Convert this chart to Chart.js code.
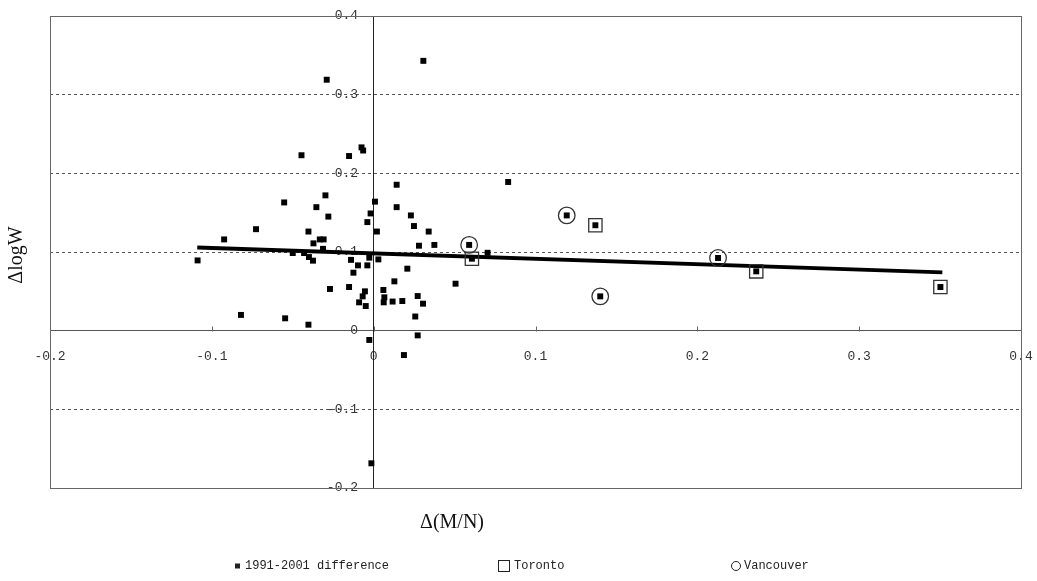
<!DOCTYPE html>
<html lang="en">
<head>
    <meta charset="UTF-8">
    <title>Delta logW vs Delta(M/N)</title>
    <script src="https://cdn.jsdelivr.net/npm/chart.js"></script>
    <style>
        html, body { margin: 0; padding: 0; background: #fff; }
        #wrap { width: 1037px; height: 581px; }
    </style>
</head>
<body>
    <div id="wrap"><canvas id="scatterChart"></canvas></div>

    <script>
        // 1991-2001 differences
        var diffX = [0.0307, -0.029, -0.0446, -0.0152, -0.0075, -0.0065, 0.0142, -0.0298, -0.0553, 0.0008,
                     -0.0354, 0.0142, -0.028, -0.0019, 0.023, -0.0039, 0.0249, -0.0727, 0.034, 0.002,
                     -0.0403, -0.0924, -0.0333, -0.0309, -0.0372, 0.028, 0.0375, -0.0313, -0.05, -0.043,
                     -0.04, -0.0375, -0.1088, -0.014, -0.0027, 0.0029, -0.0097, -0.0039, 0.0208, -0.0125,
                     0.0128, 0.0506, -0.027, -0.0152, -0.0054, 0.006, -0.0068, 0.0066, 0.0272, -0.009,
                     -0.0049, 0.0062, 0.0117, 0.0177, 0.0305, 0.0257, -0.082, -0.0547, -0.0403, 0.0272,
                     -0.0027, 0.0187, -0.0014, 0.0831, 0.0704, 0.059, 0.0607, 0.1193, 0.137, 0.14,
                     0.2128, 0.2364, 0.3502];
        var diffY = [0.343, 0.319, 0.223, 0.222, 0.233, 0.229, 0.1855, 0.172, 0.163, 0.164,
                     0.157, 0.157, 0.145, 0.149, 0.1465, 0.138, 0.133, 0.129, 0.126, 0.126,
                     0.126, 0.116, 0.116, 0.116, 0.111, 0.108, 0.109, 0.104, 0.0987, 0.0987,
                     0.0936, 0.089, 0.0893, 0.09, 0.0928, 0.0906, 0.083, 0.083, 0.0788, 0.0737,
                     0.0627, 0.0597, 0.053, 0.0555, 0.05, 0.0517, 0.0436, 0.0424, 0.044, 0.036,
                     0.0313, 0.036, 0.037, 0.0377, 0.0343, 0.018, 0.02, 0.0157, 0.0076, -0.006,
                     -0.0118, -0.031, -0.1686, 0.189, 0.099, 0.109, 0.0915, 0.1465, 0.134, 0.0436,
                     0.0924, 0.0754, 0.0555];

        var torontoX = [0.0607, 0.137, 0.2364, 0.3502];
        var torontoY = [0.0915, 0.134, 0.0754, 0.0555];

        var vancouverX = [0.059, 0.1193, 0.14, 0.2128];
        var vancouverY = [0.109, 0.1465, 0.0436, 0.0924];

        // fitted line, two end points
        var trendX = [-0.109, 0.3514];
        var trendY = [0.1058, 0.0741];

        var axisMin = -0.2;
        var axisMax = 0.4;
        var axisStep = 0.1;

        var seriesLabels = ["1991-2001 difference", "Toronto", "Vancouver"];

        function toPoints(xs, ys) {
            return xs.map(function (x, i) { return { x: x, y: ys[i] }; });
        }

        function fmt(v) {
            if (Math.abs(v) < 1e-9) return "0";
            return v.toFixed(1);
        }

        // plot frame, small inner tick marks, axis titles and the legend row
        var framePlugin = {
            id: "frame",
            beforeDatasetsDraw: function (chart) {
                var ctx = chart.ctx, a = chart.chartArea;
                var xs = chart.scales.x, ys = chart.scales.y;
                var y0 = Math.round(ys.getPixelForValue(0)) + 0.5;
                ctx.save();
                ctx.strokeStyle = "#666";
                ctx.lineWidth = 1;
                ctx.strokeRect(Math.round(a.left) + 0.5, Math.round(a.top) + 0.5,
                    Math.round(a.right - a.left), Math.round(a.bottom - a.top));
                ctx.beginPath();
                xs.ticks.forEach(function (t) {
                    var px = Math.round(xs.getPixelForValue(t.value)) + 0.5;
                    ctx.moveTo(px, y0);
                    ctx.lineTo(px, y0 - 5);
                });
                ctx.stroke();
                ctx.restore();
            },
            afterDraw: function (chart) {
                var ctx = chart.ctx;
                ctx.save();
                ctx.fillStyle = "#111";
                ctx.font = "20px 'Liberation Serif'";
                ctx.textAlign = "center";
                ctx.textBaseline = "middle";
                ctx.fillText("\u0394(M/N)", 452, 523);

                ctx.save();
                ctx.translate(17, 255);
                ctx.rotate(-Math.PI / 2);
                ctx.fillText("\u0394logW", 0, 0);
                ctx.restore();

                // legend
                var ly = 566;
                ctx.font = "12px 'Liberation Mono'";
                ctx.textAlign = "left";
                ctx.fillStyle = "#222";
                ctx.strokeStyle = "#222";
                ctx.lineWidth = 1;

                ctx.fillRect(235, ly - 2.5, 5, 5);
                ctx.fillText(seriesLabels[0], 245, ly);

                ctx.strokeRect(498.5, ly - 5.5, 11, 11);
                ctx.fillText(seriesLabels[1], 514, ly);

                ctx.beginPath();
                ctx.arc(736, ly, 4.5, 0, Math.PI * 2);
                ctx.stroke();
                ctx.fillText(seriesLabels[2], 744, ly);
                ctx.restore();
            }
        };

        var ctx = document.getElementById("scatterChart").getContext("2d");

        var chart = new Chart(ctx, {
            type: "scatter",
            data: {
                datasets: [
                    {
                        label: seriesLabels[0],
                        data: toPoints(diffX, diffY),
                        pointStyle: "rect",
                        pointRadius: 4.2,
                        backgroundColor: "#000",
                        borderWidth: 0,
                        order: 0
                    },
                    {
                        label: seriesLabels[1],
                        data: toPoints(torontoX, torontoY),
                        pointStyle: "rect",
                        pointRadius: 9.4,
                        backgroundColor: "rgba(0,0,0,0)",
                        borderColor: "#333",
                        borderWidth: 1.3,
                        order: 1
                    },
                    {
                        label: seriesLabels[2],
                        data: toPoints(vancouverX, vancouverY),
                        pointStyle: "circle",
                        pointRadius: 8.3,
                        backgroundColor: "rgba(0,0,0,0)",
                        borderColor: "#333",
                        borderWidth: 1.3,
                        order: 1
                    },
                    {
                        label: "trend",
                        data: toPoints(trendX, trendY),
                        showLine: true,
                        borderColor: "#000",
                        borderWidth: 4,
                        pointRadius: 0,
                        order: 2
                    }
                ]
            },
            options: {
                responsive: true,
                maintainAspectRatio: false,
                animation: false,
                layout: { padding: { left: 50, right: 16, top: 16, bottom: 93 } },
                plugins: {
                    legend: { display: false },
                    tooltip: { enabled: false }
                },
                scales: {
                    x: {
                        type: "linear",
                        position: { y: 0 },
                        min: axisMin,
                        max: axisMax,
                        grid: {
                            drawOnChartArea: false,
                            drawTicks: true,
                            tickLength: 16,
                            tickColor: "rgba(0,0,0,0)"
                        },
                        border: { color: "#555" },
                        ticks: {
                            stepSize: axisStep,
                            padding: 2,
                            color: "#333",
                            font: { family: "'Liberation Mono'", size: 13 },
                            callback: fmt
                        }
                    },
                    y: {
                        type: "linear",
                        position: { x: 0 },
                        min: axisMin,
                        max: axisMax,
                        grid: {
                            drawTicks: false,
                            color: function (c) {
                                var v = c.tick ? c.tick.value : 0;
                                if (Math.abs(v) < 1e-9) return "rgba(0,0,0,0)";
                                return "#555";
                            }
                        },
                        border: { color: "#222", dash: [3, 3] },
                        ticks: {
                            stepSize: axisStep,
                            padding: 2,
                            color: "#333",
                            font: { family: "'Liberation Mono'", size: 13 },
                            // labels sit left of the crossing axis; trailing gap keeps them off the line
                            callback: function (v) { return fmt(v) + "  "; }
                        }
                    }
                }
            },
            plugins: [framePlugin]
        });
    </script>
</body>
</html>
